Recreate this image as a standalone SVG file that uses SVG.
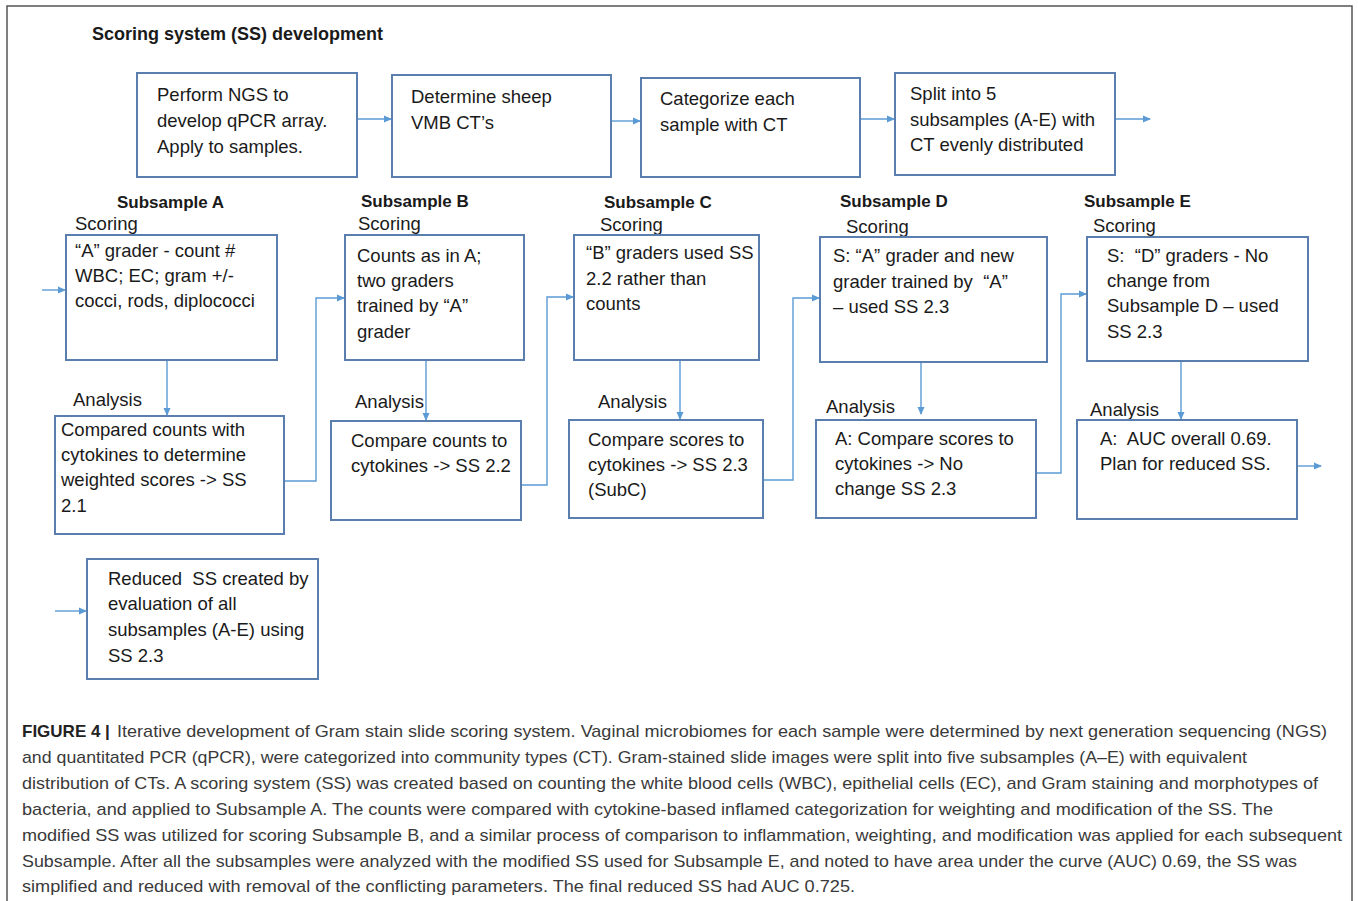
<svg xmlns="http://www.w3.org/2000/svg" width="1358" height="901" viewBox="0 0 1358 901">
<defs>
<marker id="ah" viewBox="0 0 8 8" refX="7" refY="4" markerWidth="8" markerHeight="8" markerUnits="userSpaceOnUse" orient="auto">
<path d="M0,0.5 L8,4 L0,7.5 z" fill="#5B9BD5"/>
</marker>
<style>
.bx{fill:#fff;stroke:#5a7fae;stroke-width:2}
.t{font-family:"Liberation Sans",Arial,sans-serif;font-size:18.5px;fill:#1a1a1a;white-space:pre}
.h{font-family:"Liberation Sans",Arial,sans-serif;font-size:17px;font-weight:bold;fill:#1a1a1a}
.c{fill:none;stroke:#5B9BD5;stroke-width:1.4;marker-end:url(#ah)}
.cap{font-family:"Liberation Sans",Arial,sans-serif;font-size:17px;fill:#3a3a3a}
</style>
</defs>
<rect width="1358" height="901" fill="#fff"/>
<path d="M7,901 V6 H1352 V901" fill="none" stroke="#555" stroke-width="1.5"/>
<text x="92" y="40" class="h" style="font-size:18px">Scoring system (SS) development</text>

<g id="connectors">
<path class="c" d="M357,119 H391"/>
<path class="c" d="M611,121 H640"/>
<path class="c" d="M860,119 H894"/>
<path class="c" d="M1115,119 H1150"/>
<path class="c" d="M42,290 H65"/>
<path class="c" d="M167,360 V415"/>
<path class="c" d="M284,481 H316 V298 H344"/>
<path class="c" d="M426,360 V420"/>
<path class="c" d="M521,485 H547 V297 H573"/>
<path class="c" d="M680,360 V419"/>
<path class="c" d="M763,480 H793 V298 H819"/>
<path class="c" d="M921,362 V414"/>
<path class="c" d="M1036,473 H1061 V294 H1086"/>
<path class="c" d="M1181,361 V419"/>
<path class="c" d="M1297,466 H1321"/>
<path class="c" d="M55,611 H86"/>
</g>

<g id="n1"><rect class="bx" x="137" y="73" width="220" height="104"/>
<text class="t" x="157" y="101">Perform NGS to</text><text class="t" x="157" y="127">develop qPCR array.</text><text class="t" x="157" y="153">Apply to samples.</text></g>
<g id="n2"><rect class="bx" x="392" y="75" width="219" height="102"/>
<text class="t" x="411" y="103">Determine sheep</text><text class="t" x="411" y="129">VMB CT’s</text></g>
<g id="n3"><rect class="bx" x="641" y="78" width="219" height="99"/>
<text class="t" x="660" y="105">Categorize each</text><text class="t" x="660" y="131">sample with CT</text></g>
<g id="n4"><rect class="bx" x="895" y="73" width="220" height="102"/>
<text class="t" x="910" y="100">Split into 5</text><text class="t" x="910" y="126">subsamples (A-E) with</text><text class="t" x="910" y="151">CT evenly distributed</text></g>

<g id="subA">
<text class="h" x="117" y="208">Subsample A</text><text class="t" x="75" y="230">Scoring</text>
<rect class="bx" x="66" y="235" width="211" height="125"/>
<text class="t" x="75" y="257">“A” grader - count #</text><text class="t" x="75" y="282">WBC; EC; gram +/-</text><text class="t" x="75" y="307">cocci, rods, diplococci</text>
</g>
<g id="subB">
<text class="h" x="361" y="207">Subsample B</text><text class="t" x="358" y="230">Scoring</text>
<rect class="bx" x="345" y="235" width="179" height="125"/>
<text class="t" x="357" y="262">Counts as in A;</text><text class="t" x="357" y="287">two graders</text><text class="t" x="357" y="312">trained by “A”</text><text class="t" x="357" y="338">grader</text>
</g>
<g id="subC">
<text class="h" x="604" y="208">Subsample C</text><text class="t" x="600" y="231">Scoring</text>
<rect class="bx" x="574" y="235" width="185" height="125"/>
<text class="t" x="586" y="259">“B” graders used SS</text><text class="t" x="586" y="285">2.2 rather than</text><text class="t" x="586" y="310">counts</text>
</g>
<g id="subD">
<text class="h" x="840" y="207">Subsample D</text><text class="t" x="846" y="233">Scoring</text>
<rect class="bx" x="820" y="237" width="227" height="125"/>
<text class="t" x="833" y="262">S: “A” grader and new</text><text class="t" x="833" y="288">grader trained by  “A”</text><text class="t" x="833" y="313">– used SS 2.3</text>
</g>
<g id="subE">
<text class="h" x="1084" y="207">Subsample E</text><text class="t" x="1093" y="232">Scoring</text>
<rect class="bx" x="1087" y="237" width="221" height="124"/>
<text class="t" x="1107" y="262">S:  “D” graders - No</text><text class="t" x="1107" y="287">change from</text><text class="t" x="1107" y="312">Subsample D – used</text><text class="t" x="1107" y="338">SS 2.3</text>
</g>

<g id="anaA">
<text class="t" x="73" y="406">Analysis</text>
<rect class="bx" x="55" y="416" width="229" height="118"/>
<text class="t" x="61" y="436">Compared counts with</text><text class="t" x="61" y="461">cytokines to determine</text><text class="t" x="61" y="486">weighted scores -&gt; SS</text><text class="t" x="61" y="512">2.1</text>
</g>
<g id="anaB">
<text class="t" x="355" y="408">Analysis</text>
<rect class="bx" x="331" y="421" width="190" height="99"/>
<text class="t" x="351" y="447">Compare counts to</text><text class="t" x="351" y="472">cytokines -&gt; SS 2.2</text>
</g>
<g id="anaC">
<text class="t" x="598" y="408">Analysis</text>
<rect class="bx" x="569" y="420" width="194" height="98"/>
<text class="t" x="588" y="446">Compare scores to</text><text class="t" x="588" y="471">cytokines -&gt; SS 2.3</text><text class="t" x="588" y="496">(SubC)</text>
</g>
<g id="anaD">
<text class="t" x="826" y="413">Analysis</text>
<rect class="bx" x="816" y="420" width="220" height="98"/>
<text class="t" x="835" y="445">A: Compare scores to</text><text class="t" x="835" y="470">cytokines -&gt; No</text><text class="t" x="835" y="495">change SS 2.3</text>
</g>
<g id="anaE">
<text class="t" x="1090" y="416">Analysis</text>
<rect class="bx" x="1077" y="420" width="220" height="99"/>
<text class="t" x="1100" y="445">A:  AUC overall 0.69.</text><text class="t" x="1100" y="470">Plan for reduced SS.</text>
</g>
<g id="reduced">
<rect class="bx" x="87" y="559" width="231" height="120"/>
<text class="t" x="108" y="585">Reduced  SS created by</text><text class="t" x="108" y="610">evaluation of all</text><text class="t" x="108" y="636">subsamples (A-E) using</text><text class="t" x="108" y="662">SS 2.3</text>
</g>

<g id="caption">
<text class="cap" x="22" y="737" style="font-weight:bold;fill:#222">FIGURE 4 |</text>
<text class="cap" x="117" y="737" textLength="1210" lengthAdjust="spacingAndGlyphs">Iterative development of Gram stain slide scoring system. Vaginal microbiomes for each sample were determined by next generation sequencing (NGS)</text>
<text class="cap" x="22" y="763" textLength="1225" lengthAdjust="spacingAndGlyphs">and quantitated PCR (qPCR), were categorized into community types (CT). Gram-stained slide images were split into five subsamples (A–E) with equivalent</text>
<text class="cap" x="22" y="789" textLength="1296" lengthAdjust="spacingAndGlyphs">distribution of CTs. A scoring system (SS) was created based on counting the white blood cells (WBC), epithelial cells (EC), and Gram staining and morphotypes of</text>
<text class="cap" x="22" y="815" textLength="1251" lengthAdjust="spacingAndGlyphs">bacteria, and applied to Subsample A. The counts were compared with cytokine-based inflamed categorization for weighting and modification of the SS. The</text>
<text class="cap" x="22" y="841" textLength="1320" lengthAdjust="spacingAndGlyphs">modified SS was utilized for scoring Subsample B, and a similar process of comparison to inflammation, weighting, and modification was applied for each subsequent</text>
<text class="cap" x="22" y="867" textLength="1275" lengthAdjust="spacingAndGlyphs">Subsample. After all the subsamples were analyzed with the modified SS used for Subsample E, and noted to have area under the curve (AUC) 0.69, the SS was</text>
<text class="cap" x="22" y="892" textLength="833" lengthAdjust="spacingAndGlyphs">simplified and reduced with removal of the conflicting parameters. The final reduced SS had AUC 0.725.</text>
</g>
</svg>
